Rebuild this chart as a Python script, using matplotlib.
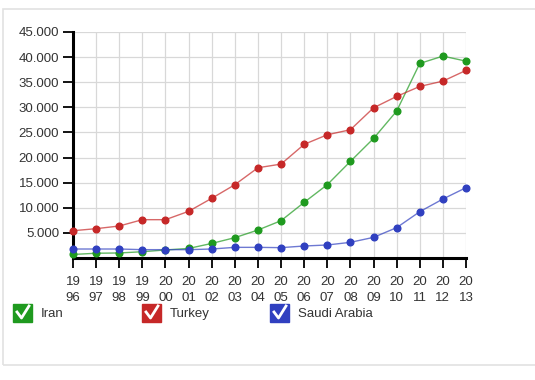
from matplotlib import pyplot as plt
from matplotlib.patches import Rectangle
from matplotlib.lines import Line2D
from matplotlib.ticker import FuncFormatter

years = list(range(1996, 2014))
iran = [700, 950, 1000, 1250, 1600, 1900, 2900, 4050, 5570, 7430, 11080, 14600,
        19240, 23800, 29250, 38740, 40200, 39200]
turkey = [5430, 5840, 6370, 7630, 7630, 9290, 11880, 14590, 17970, 18700, 22630, 24540,
          25540, 29900, 32170, 34160, 35220, 37350]
saudi = [1790, 1790, 1790, 1660, 1660, 1660, 1790, 2120, 2120, 2060, 2390, 2590,
         3120, 4110, 6040, 9220, 11740, 14000]
y_ticks = [5000, 10000, 15000, 20000, 25000, 30000, 35000, 40000, 45000]

series = [("Iran", iran, "#1f9a1f"), ("Turkey", turkey, "#c62828"), ("Saudi Arabia", saudi, "#3040c0")]

plt.rcParams['font.family'] = ['Liberation Sans', 'DejaVu Sans']

W, H = 535, 380
fig = plt.figure(figsize=(W / 100, H / 100), dpi=100)
ax = fig.add_axes([73 / W, 1 - 258 / H, (466 - 73) / W, (258 - 32) / H])

# outer frame, runs off the right edge
fig.patches.append(Rectangle((3 / W, 1 - 365 / H), 1.2, (365 - 9) / H, transform=fig.transFigure,
                             fill=False, edgecolor="#e2e2e2", linewidth=1.2))

for name, vals, col in series:
    ax.plot(years, vals, color=col, linewidth=1.0, alpha=0.7, zorder=3, clip_on=False)
    ax.plot(years, vals, 'o', color=col, markersize=4.8, zorder=4, clip_on=False)

ax.set_xlim(1996, 2013)
ax.set_ylim(0, 45000)
ax.set_yticks(y_ticks)
ax.yaxis.set_major_formatter(FuncFormatter(lambda v, p: f"{int(v):,}".replace(",", ".")))
ax.set_xticks(years)
ax.set_xticklabels([f"{str(y)[:2]}\n{str(y)[2:]}" for y in years], linespacing=1.4)
ax.grid(True, color="#d8d8d8", linewidth=0.9)
ax.set_axisbelow(True)
for s in ["top", "right"]:
    ax.spines[s].set_visible(False)
ax.spines["left"].set_linewidth(2.2)
ax.spines["bottom"].set_linewidth(2.2)
ax.tick_params(axis="both", colors="black", labelcolor="#333333", labelsize=9.5, width=1.3, length=7)
ax.tick_params(axis="x", pad=6)
ax.tick_params(axis="y", pad=3)

# legend with checkboxes
legend_x = [13, 142, 270]
for (name, vals, col), lx in zip(series, legend_x):
    fig.patches.append(Rectangle((lx / W, 1 - 322 / H), 19 / W, 18 / H, transform=fig.transFigure,
                                 facecolor=col, edgecolor=col))
    fig.lines.append(Line2D([(lx + 4) / W, (lx + 8.5) / W, (lx + 16) / W],
                            [1 - 312 / H, 1 - 318 / H, 1 - 306 / H],
                            transform=fig.transFigure, color="white", linewidth=2))
    fig.text((lx + 28) / W, 1 - 314 / H, name, fontsize=9.5, color="#333333", va="center")

fig.savefig("out.png", dpi=100)
